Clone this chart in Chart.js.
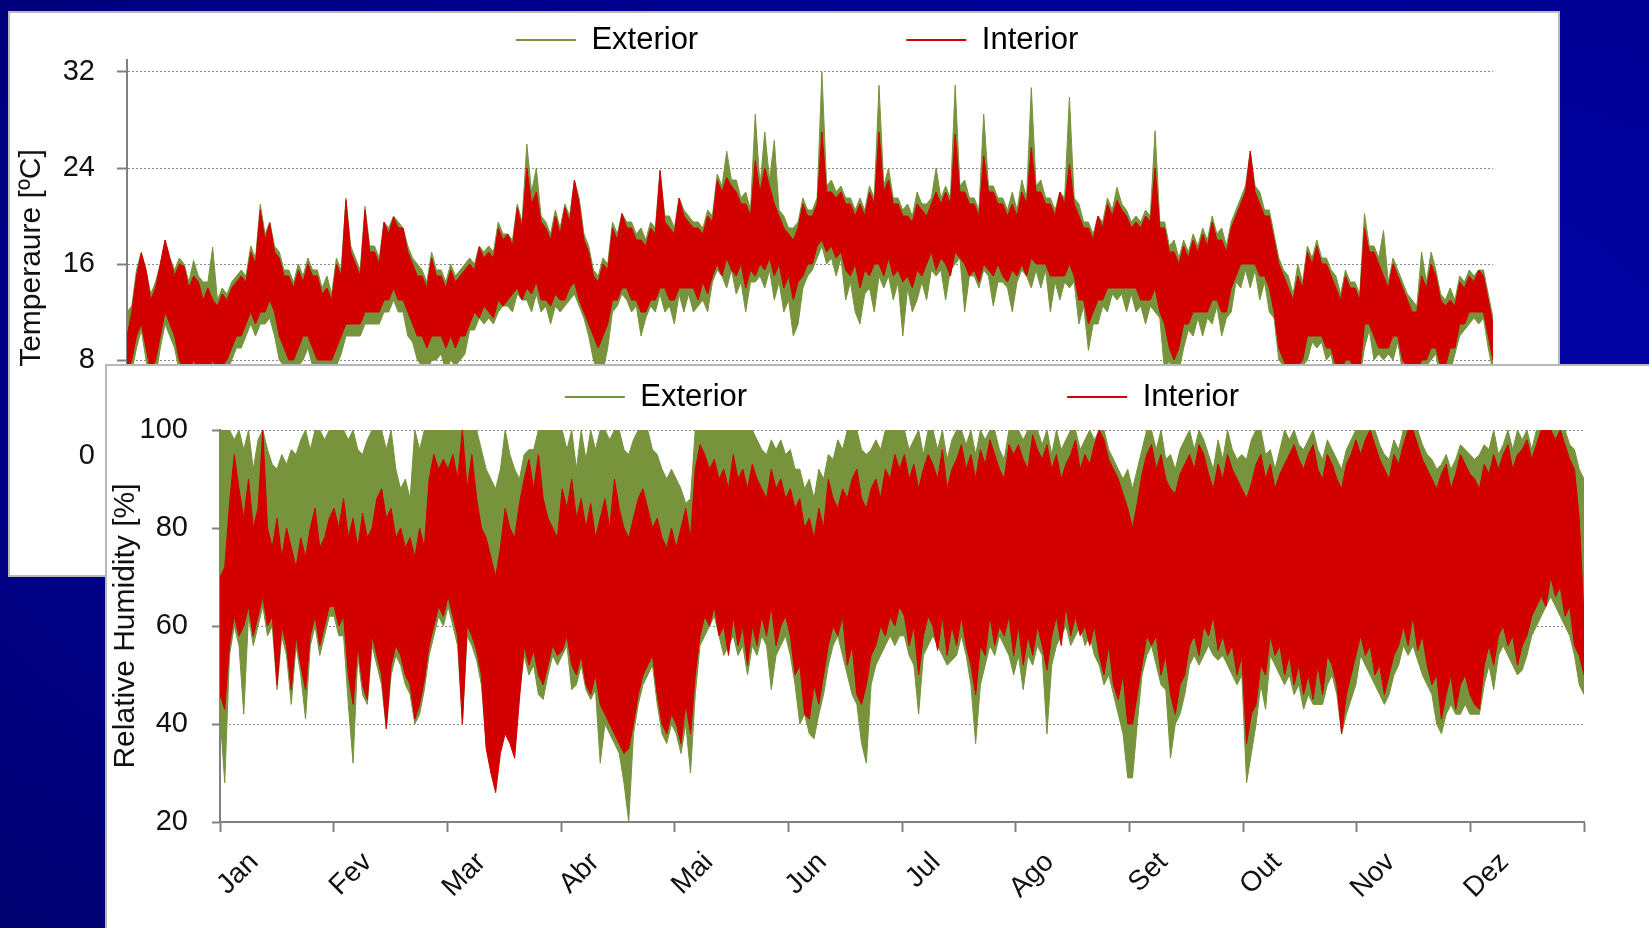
<!DOCTYPE html>
<html>
<head>
<meta charset="utf-8">
<script src="https://cdn.jsdelivr.net/npm/chart.js@4.4.1/dist/chart.umd.min.js"></script>
<style>
  html, body { margin: 0; padding: 0; }
  body {
    width: 1649px; height: 928px; overflow: hidden; position: relative;
    background: radial-gradient(ellipse at 72% 40%, #0808b0 0%, #000098 45%, #000070 100%);
  }
  .panel { position: absolute; background: #fff; box-sizing: border-box; }
  #topPanel { left: 8px; top: 11px; width: 1552px; height: 566px; border: 2px solid #b8b8b8; }
  #bottomPanel { left: 105px; top: 364px; width: 1560px; height: 580px; border-left: 2px solid #b8b8b8; border-top: 2px solid #b8b8b8; }
  #tempChart { position: absolute; left: 9px; top: 12px; }
  #humChart { position: absolute; left: 107px; top: 367px; }
</style>
</head>
<body>
<div class="panel" id="topPanel"></div>
<canvas id="tempChart" width="1548" height="560"></canvas>
<div class="panel" id="bottomPanel"></div>
<canvas id="humChart" width="1542" height="561"></canvas>
<script>
const monthLabels = ['Jan', 'Fev', 'Mar', 'Abr', 'Mai', 'Jun', 'Jul', 'Ago', 'Set', 'Out', 'Nov', 'Dez'];
const tempTicks = [0, 8, 16, 24, 32];
const humTicks = [20, 40, 60, 80, 100];

// temperature [ºC], 24 readings per month (one row per month): upper / lower envelope of the hourly signal
const tempIntHigh = [
  10, 12, 15, 16.9, 15.5, 13, 14, 16, 18, 16.5, 15, 16, 15.8, 14, 15, 14.5, 13, 14, 13, 12.5, 13.5, 13, 14, 14.5,
  15, 14.5, 17, 16, 20.5, 18, 19.4, 17, 16.5, 15, 15, 14, 15.5, 14.5, 16, 15, 15, 13.5, 14, 13, 16, 15, 21.3, 17,
  16, 15, 20.5, 17, 17, 16, 19.5, 18.5, 19.9, 19, 19, 17, 16, 15, 15, 14, 16.5, 15, 15, 14, 15.5, 14.5, 15, 15.5,
  16, 15.5, 17.4, 16.5, 17, 16.5, 19, 18, 18.5, 17.5, 20.7, 19, 24, 21, 22, 19.5, 19, 18, 20, 18.5, 20.7, 19.5, 23, 21,
  18, 17, 15, 14.5, 16, 15.5, 19, 18, 20.2, 19, 19, 18, 18, 17.5, 19, 18.5, 23.8, 19.5, 19, 18.5, 21.5, 20, 19.5, 19,
  19, 18.5, 20, 19.5, 23, 22, 23.2, 22.5, 22, 21, 21, 20, 24.6, 22, 24, 22.5, 21, 20, 19, 18.5, 18, 19, 21, 20,
  20, 21, 27, 22, 22, 21.5, 22, 21, 21, 20, 21, 20, 22, 21, 27, 22, 23, 21, 21, 20, 20, 19.5, 21, 20.5,
  20, 21, 22, 21, 22, 21, 26.8, 22, 22, 21, 21, 20, 25, 22, 22, 21, 21, 20, 21, 20, 22, 21, 25.7, 22,
  22, 21, 21, 20, 22, 21, 24.3, 21, 20, 19, 19, 18, 20, 19, 21, 20, 21.3, 20.5, 20, 19, 19.5, 19, 20, 19.5,
  24, 19, 19, 17, 17, 16, 17.5, 16.5, 18, 17, 18.5, 17.5, 19.5, 18, 18, 17, 19, 20, 21, 22, 25.4, 22, 21, 20,
  20, 18, 16, 15, 14, 13, 15, 14, 17, 16, 17.5, 16, 16, 15, 14, 13, 15, 14, 14, 13, 19, 17, 17, 16,
  15, 14, 16, 15, 14, 13, 12, 12, 15, 14, 16, 15, 13, 12.5, 13, 12.5, 14.5, 14, 15, 14.5, 15.5, 15, 13, 11
];
const tempIntLow = [
  7, 8, 10, 11, 9, 7, 8, 10, 12, 11, 10, 8, 7, 7, 8, 7, 7, 7, 8, 7, 7.5, 8, 9, 10,
  10, 11, 12, 11, 12, 12, 13, 12, 10, 9, 8, 8, 9, 10, 10, 9, 8, 8, 8, 8, 9, 10, 11, 11,
  11, 11, 12, 12, 12, 12, 13, 13, 14, 13, 13, 12, 11, 10, 10, 9, 10, 10, 10, 9, 10, 9, 10, 10,
  11, 12, 11.5, 12.5, 12, 11.5, 13, 12.5, 13, 13.5, 14, 13, 14, 13.5, 14.5, 13, 13, 12.5, 13.5, 13, 13, 14, 14.5, 13,
  12, 11, 10, 9, 10, 11, 13, 13, 14, 14, 13, 13, 12, 12, 13, 13, 14, 14, 13, 13, 14, 14, 14, 14,
  13, 14.5, 13.5, 15, 16, 15, 16.5, 15.5, 15, 16, 14, 15.5, 15, 16, 15.5, 16.5, 15, 16, 14, 15, 13, 14.5, 15, 16,
  16, 17.5, 18, 17, 17.5, 16.5, 17, 15.5, 15, 16, 14, 15.5, 15, 16, 16, 15, 16.5, 15, 15.5, 14.5, 15, 14, 15.5, 15,
  16, 17, 15.5, 16.5, 16, 15, 17, 16.5, 16, 15, 15.5, 14.5, 16, 15.5, 15, 16, 15, 14.5, 15.5, 15, 16, 15, 16.5, 16,
  16, 16, 15, 15, 15, 15, 16, 15, 13, 13, 11, 12, 13, 13, 14, 14, 14, 14, 14, 14, 14, 13, 13, 13,
  14, 12, 11, 9, 8, 9, 11, 11, 12, 12, 12, 12, 13, 13, 12, 12, 14, 15, 16, 16, 16, 16, 15, 15,
  14, 12, 9, 8, 7, 7, 7.5, 8, 10, 10, 10, 10, 9, 9, 7.5, 7, 8, 8, 7, 7, 11, 11, 10, 9,
  9, 9, 10, 10, 8, 7.5, 7, 7, 8, 8, 9, 9, 7.5, 7.5, 9, 9, 11, 11, 12, 12, 12, 12, 10, 8
];
const tempExtHigh = [
  12, 12.5, 15.5, 17, 15.5, 13.5, 14.5, 16, 18, 16.5, 15.5, 16.5, 16, 14.5, 16.3, 15, 14.5, 14.5, 17.4, 13, 14, 13.5, 14.5, 15,
  15.5, 15, 17.5, 16.5, 21, 18.5, 19.5, 17.5, 17, 15.5, 15.5, 14.5, 16, 15, 16.5, 15.5, 15.5, 14, 15, 13.5, 16.5, 15.5, 21.5, 17.5,
  16.5, 15.5, 20.8, 17.5, 17.5, 16.5, 19.5, 19, 20, 19.5, 19, 17.5, 16.5, 16, 15.5, 14.5, 17, 15.5, 15.5, 14.5, 16, 15, 15.5, 16,
  16.5, 16, 17.5, 17, 17.5, 17, 19.5, 18.5, 18.5, 18, 21, 19.5, 26, 22, 24, 20, 19.5, 18.5, 20.5, 19, 21, 20, 23, 21.5,
  18.5, 17.5, 15.5, 15, 16.5, 16, 19.5, 18.5, 20.2, 19.5, 19.5, 18.5, 19, 18, 19.5, 19, 23.8, 20, 20, 19, 21.5, 20.5, 20, 19.5,
  19.5, 19, 20.5, 20, 23.5, 22.5, 25.4, 23, 23, 21.5, 22, 20.5, 28.5, 22.5, 27, 23, 26.3, 20.5, 20, 19, 19, 19.5, 21.5, 20.5,
  20.5, 21.5, 32, 22.5, 23, 22, 22.5, 21.5, 21.5, 20.5, 21.5, 20.5, 22.5, 21.5, 30.9, 22.5, 24, 21.5, 21.5, 20.5, 21, 20, 22, 21,
  21, 21.5, 24, 21.5, 22.5, 21.5, 30.9, 22.5, 23, 21.5, 21.5, 20.5, 28.5, 22.5, 22.5, 21.5, 21.5, 20.5, 22, 20.5, 23, 21.5, 30.7, 22.5,
  23, 21.5, 21.5, 20.5, 22, 21.5, 29.9, 21.5, 21, 19.5, 19.5, 18.5, 20, 19.5, 21.5, 20.5, 22.4, 21, 20.5, 19.5, 20, 19.5, 20.5, 20,
  27.1, 19.5, 19.5, 17.5, 18, 16.5, 18, 17, 18.5, 17.5, 19, 18, 20, 18.5, 19, 17.5, 19.5, 20.5, 21.5, 22.5, 25.4, 22.5, 22, 20.5,
  20.5, 18.5, 16.5, 15.5, 15, 13.5, 16, 14.5, 17.5, 16.5, 18, 16.5, 16.5, 15.5, 15, 13.5, 15.5, 14.5, 14.5, 13.5, 20.2, 17.5, 17.5, 16.5,
  18.8, 14.5, 16.5, 15.5, 14.5, 13.5, 13, 12.5, 17, 14.5, 17, 15.5, 13.5, 13, 14, 13, 15, 14.5, 15.5, 15, 15.5, 15.5, 13.5, 11.5
];
const tempExtLow = [
  6, 7, 9, 10.5, 8, 6, 6.5, 9, 11, 10, 9, 7, 6, 6, 6.5, 6, 6, 6, 6.5, 6, 6, 7, 8, 9,
  9, 10, 11, 10, 11, 11, 11.5, 10, 8, 7.5, 7, 6.5, 7.5, 8, 9, 7.5, 6.5, 6.5, 6, 6.5, 7.5, 8.5, 10, 10,
  10, 10, 11, 11, 11, 11, 12, 12, 13, 12, 12, 10, 9.5, 8, 7.5, 7, 8, 8, 8.5, 7, 8, 7.5, 8, 8.5,
  10.5, 10.5, 11.5, 11, 11.5, 11, 12, 12.5, 12.5, 12, 13.5, 13, 13, 12, 13.5, 12, 12.5, 11, 12.5, 12, 12.5, 13, 13.5, 12.5,
  11.5, 10, 8, 7, 7, 9, 12, 12.5, 13.5, 13, 12, 12.5, 10, 11.5, 12.5, 12, 13.5, 12, 12.5, 11, 13.5, 12, 13.5, 12,
  12.5, 13, 12, 14.5, 15.5, 15, 14, 15.5, 13.5, 14.5, 12, 14.5, 14.5, 15, 14, 15.5, 13, 14.5, 12, 13, 10, 11, 14, 15,
  15.5, 16.5, 17.5, 16, 16.5, 15, 16.5, 13, 14.5, 12, 11, 13.5, 14, 12, 15, 14, 15, 13, 14.5, 10, 14, 12, 13, 14.5,
  13, 15.5, 15, 15.5, 13, 15.5, 16, 16.5, 12, 15, 15, 14, 15.5, 15, 12.5, 14.5, 14.5, 14, 12, 14.5, 15.5, 15, 14, 15.5,
  14, 15.5, 12, 14.5, 13, 14.5, 14, 14.5, 11, 12.5, 8.8, 11, 11, 12.5, 12, 13.5, 13, 13.5, 12, 13.5, 12, 12.5, 11, 12.5,
  12, 11.5, 7, 8, 6, 7, 9, 10.5, 10, 11.5, 10, 11.5, 11, 12.5, 10, 11.5, 12, 14.5, 14, 15.5, 14, 15.5, 13, 14.5,
  12, 11.5, 8, 7.5, 6, 6.5, 6, 7.5, 8, 9.5, 9, 9.5, 8, 8.5, 6, 6.5, 7, 7.5, 6, 6.5, 9, 10.5, 8, 8.5,
  8, 8.5, 8, 9.5, 7, 7, 6, 6.5, 7, 7.5, 8, 8.5, 6, 7, 7, 8.5, 10, 10.5, 11, 11.5, 11, 11.5, 9, 7
];

// relative humidity [%], same sampling
const humIntHigh = [
  70, 72, 85, 95, 88, 82, 90, 80, 84, 100, 80, 76, 82, 74, 80, 76, 72, 78, 74, 80, 84, 76, 78, 82,
  84, 80, 86, 78, 82, 76, 83, 78, 80, 86, 88, 82, 84, 78, 80, 76, 78, 74, 80, 76, 90, 95, 92, 94,
  92, 95, 90, 100, 88, 95, 86, 80, 78, 74, 70, 76, 84, 80, 78, 85, 90, 94, 88, 95, 86, 82, 80, 78,
  88, 84, 90, 82, 86, 80, 85, 78, 82, 86, 80, 90, 84, 80, 78, 82, 86, 88, 84, 80, 82, 78, 76, 80,
  76, 80, 84, 78, 92, 97, 95, 92, 94, 90, 92, 88, 95, 90, 92, 88, 93, 90, 88, 86, 92, 88, 90, 86,
  88, 84, 86, 80, 82, 78, 84, 80, 90, 86, 84, 88, 86, 90, 92, 86, 84, 88, 90, 86, 92, 90, 95, 92,
  95, 90, 93, 88, 92, 95, 93, 90, 96, 88, 92, 94, 97, 92, 95, 90, 96, 93, 98, 95, 92, 90, 97, 95,
  97, 94, 92, 99, 96, 94, 97, 92, 95, 90, 93, 95, 98, 92, 95, 93, 97, 100, 98, 94, 92, 90, 87, 84,
  80, 85, 91, 95, 97, 92, 95, 90, 88, 87, 91, 93, 95, 92, 97, 95, 91, 88, 93, 90, 95, 92, 90, 88,
  86, 89, 93, 95, 90, 93, 88, 91, 93, 95, 97, 94, 92, 95, 97, 92, 90, 95, 93, 90, 88, 93, 95, 98,
  95, 98, 100, 97, 94, 92, 90, 95, 93, 97, 100, 100, 97, 94, 92, 90, 88, 91, 93, 88, 91, 95, 93, 91,
  90, 88, 93, 91, 95, 92, 95, 97, 92, 95, 96, 98, 94, 97, 100, 100, 100, 98, 100, 97, 94, 92, 82, 62
];
const humIntLow = [
  46, 43, 56, 62, 58, 60, 64, 58, 62, 66, 60, 62, 48, 60, 56, 47, 58, 52, 47, 58, 62, 56, 60, 64,
  64, 60, 62, 50, 44, 56, 48, 45, 58, 54, 50, 39, 52, 56, 54, 50, 48, 41, 44, 49, 56, 60, 64, 62,
  66, 62, 58, 40, 60, 58, 55, 50, 35, 30, 26, 34, 38, 36, 33, 45, 56, 52, 55, 50, 48, 52, 56, 54,
  55, 58, 52, 50, 54, 48, 46, 50, 44, 42, 40, 38, 36, 34, 35, 40, 46, 50, 52, 54, 46, 40, 38, 42,
  40, 36, 44, 38, 50, 58, 62, 60, 64, 58, 60, 54, 62, 56, 60, 52, 60, 56, 62, 58, 64, 56, 60, 62,
  58, 50, 52, 42, 41, 48, 44, 50, 56, 60, 58, 62, 52, 56, 46, 44, 48, 54, 56, 60, 58, 62, 60, 64,
  62, 56, 60, 50, 58, 62, 60, 55, 62, 54, 60, 56, 62, 56, 52, 46, 56, 54, 62, 56, 60, 58, 62, 54,
  60, 52, 58, 54, 60, 56, 51, 58, 62, 56, 64, 58, 62, 58, 60, 56, 60, 54, 50, 56, 48, 45, 50, 40,
  40, 46, 52, 58, 56, 58, 50, 54, 46, 42, 48, 50, 56, 58, 54, 60, 58, 62, 55, 58, 54, 56, 50, 54,
  36, 42, 44, 52, 50, 58, 54, 56, 50, 54, 48, 52, 46, 50, 45, 52, 46, 54, 52, 48, 38, 46, 50, 54,
  58, 54, 56, 50, 52, 46, 50, 54, 56, 60, 56, 62, 55, 58, 52, 48, 50, 41, 46, 50, 43, 48, 50, 46,
  44, 43, 52, 56, 52, 58, 60, 56, 58, 52, 56, 58, 62, 64, 66, 64, 70, 66, 68, 62, 64, 56, 54, 50
];
const humExtHigh = [
  100, 100, 100, 98, 100, 96, 100, 92, 98, 100, 96, 93, 92, 95, 93, 96, 95, 98, 100, 96, 100, 100, 98, 100,
  100, 100, 100, 98, 100, 96, 95, 98, 100, 100, 100, 96, 100, 92, 88, 90, 86, 100, 96, 100, 100, 100, 100, 100,
  100, 100, 100, 100, 100, 100, 100, 96, 92, 90, 88, 92, 100, 95, 92, 90, 95, 96, 96, 100, 100, 100, 100, 100,
  100, 96, 100, 92, 100, 94, 100, 96, 100, 100, 98, 100, 100, 96, 95, 98, 100, 100, 100, 96, 95, 92, 90, 92,
  90, 88, 85, 86, 100, 100, 100, 100, 100, 100, 100, 100, 100, 100, 100, 100, 100, 98, 96, 95, 98, 96, 98, 95,
  96, 92, 92, 88, 90, 86, 92, 90, 95, 94, 98, 96, 100, 100, 100, 96, 95, 96, 98, 96, 100, 100, 100, 100,
  100, 96, 98, 100, 95, 100, 100, 96, 100, 94, 98, 100, 100, 97, 100, 95, 100, 98, 100, 100, 96, 94, 100, 100,
  100, 98, 100, 100, 100, 97, 100, 95, 100, 96, 98, 100, 100, 96, 98, 100, 98, 100, 100, 96, 94, 92, 90, 92,
  88, 92, 96, 100, 100, 96, 100, 94, 95, 92, 96, 98, 100, 96, 100, 98, 95, 92, 98, 94, 100, 96, 94, 95,
  94, 98, 100, 100, 95, 96, 92, 96, 100, 98, 100, 97, 96, 98, 100, 96, 94, 98, 96, 94, 92, 96, 98, 100,
  100, 100, 100, 100, 97, 95, 94, 98, 96, 100, 100, 100, 100, 97, 95, 94, 92, 93, 95, 92, 94, 97, 96, 95,
  94, 95, 97, 96, 100, 95, 97, 100, 96, 100, 98, 100, 96, 100, 100, 100, 100, 100, 100, 100, 97, 96, 92, 90
];
const humExtLow = [
  42, 28, 54, 60, 56, 42, 62, 56, 60, 64, 58, 60, 47, 58, 54, 44, 56, 50, 41, 56, 60, 54, 58, 62,
  62, 58, 58, 44, 32, 54, 46, 44, 56, 52, 48, 39, 50, 54, 52, 48, 46, 40, 42, 47, 54, 58, 62, 60,
  64, 60, 56, 40, 58, 56, 53, 48, 36, 32, 30, 36, 40, 38, 35, 46, 54, 50, 52, 46, 45, 50, 54, 52,
  54, 56, 47, 48, 52, 47, 45, 47, 32, 40, 38, 36, 34, 28, 20, 38, 44, 48, 50, 52, 44, 38, 36, 40,
  38, 34, 40, 30, 46, 56, 58, 60, 62, 58, 54, 56, 58, 54, 56, 50, 56, 54, 58, 56, 47, 54, 56, 58,
  54, 48, 40, 42, 38, 37, 42, 46, 52, 56, 58, 54, 50, 46, 44, 36, 32, 48, 52, 54, 56, 58, 56, 58,
  58, 54, 52, 42, 54, 56, 58, 56, 54, 52, 53, 54, 58, 54, 48, 36, 48, 52, 56, 54, 58, 56, 54, 50,
  54, 47, 54, 52, 56, 54, 38, 52, 56, 58, 60, 56, 58, 60, 56, 58, 54, 52, 48, 50, 46, 42, 38, 29,
  29, 40, 50, 54, 56, 52, 48, 47, 33, 40, 42, 46, 52, 54, 52, 54, 56, 54, 53, 54, 52, 50, 48, 50,
  28, 34, 40, 48, 43, 54, 52, 50, 48, 50, 46, 48, 43, 46, 44, 44, 44, 48, 50, 46, 38, 42, 45, 48,
  54, 52, 50, 48, 46, 44, 46, 50, 52, 56, 54, 56, 53, 50, 48, 46, 40, 38, 42, 44, 42, 42, 44, 42,
  42, 42, 48, 52, 47, 54, 56, 54, 52, 50, 51, 54, 58, 60, 62, 64, 66, 64, 62, 60, 58, 54, 48, 46
];

const extColor = '#77933c';
const intColor = '#d20000';
const axisGray = '#808080';
const textColor = '#111111';

Chart.defaults.font.family = "'Liberation Sans', Arial, sans-serif";
Chart.defaults.color = textColor;

// spread the samples evenly over the 12 months of the year
function toPoints(values) {
  return values.map((v, i) => ({ x: i * 12 / (values.length - 1), y: v }));
}

function band(values, color, fill) {
  return {
    data: toPoints(values),
    borderColor: color,
    backgroundColor: color,
    borderWidth: 1,
    pointRadius: 0,
    tension: 0,
    fill: fill
  };
}

function legendItems(extText, intText) {
  return () => [
    { text: extText, fillStyle: extColor, strokeStyle: extColor, lineWidth: 0, hidden: false, datasetIndex: 2 },
    { text: intText, fillStyle: intColor, strokeStyle: intColor, lineWidth: 0, hidden: false, datasetIndex: 0 }
  ];
}

const legendFont = { size: 31 };

new Chart(document.getElementById('tempChart'), {
  type: 'line',
  data: {
    datasets: [
      band(tempIntHigh, intColor, '+1'),
      band(tempIntLow, intColor, false),
      band(tempExtHigh, extColor, '+1'),
      band(tempExtLow, extColor, false)
    ]
  },
  options: {
    responsive: false,
    animation: false,
    events: [],
    layout: { padding: { top: 2.5, left: 0, right: 64, bottom: 116 } },
    plugins: {
      tooltip: { enabled: false },
      legend: {
        position: 'top',
        fullSize: false,
        maxHeight: 45.5,
        labels: {
          boxWidth: 60, boxHeight: 2, padding: 10, color: textColor, font: legendFont,
          generateLabels: legendItems('Exterior' + ' '.repeat(23), 'Interior' + ' '.repeat(3))
        }
      }
    },
    scales: {
      x: { type: 'linear', min: 0, max: 12, display: false },
      y: {
        min: 0, max: 33,
        afterBuildTicks: s => { s.ticks = tempTicks.map(v => ({ value: v })); },
        afterFit: s => { s.width = 118; },
        ticks: { padding: 22, font: { size: 29 }, color: textColor },
        grid: { color: '#8a8a8a', lineWidth: 1, tickLength: 10, tickColor: axisGray, tickWidth: 2, tickBorderDash: [] },
        border: { color: axisGray, width: 2, dash: [2, 2] },
        title: { display: true, text: 'Temperaure [ºC]', color: textColor, font: { size: 30, lineHeight: 1.2 }, padding: { top: 5, bottom: 0 } }
      }
    }
  }
});

new Chart(document.getElementById('humChart'), {
  type: 'line',
  data: {
    datasets: [
      band(humIntHigh, intColor, '+1'),
      band(humIntLow, intColor, false),
      band(humExtHigh, extColor, '+1'),
      band(humExtLow, extColor, false)
    ]
  },
  options: {
    responsive: false,
    animation: false,
    events: [],
    layout: { padding: { top: 4.5, left: 0, right: 65, bottom: 0 } },
    plugins: {
      tooltip: { enabled: false },
      // empty spacer between legend and plot
      title: { display: true, text: '', weight: 500, padding: 0, font: { size: 6, lineHeight: 1.25 } },
      legend: {
        position: 'top',
        fullSize: false,
        labels: {
          boxWidth: 60, boxHeight: 2, padding: 10, color: textColor, font: legendFont,
          generateLabels: legendItems('Exterior' + ' '.repeat(36), 'Interior')
        }
      }
    },
    scales: {
      x: {
        type: 'linear', min: 0, max: 12,
        afterBuildTicks: s => { s.ticks = monthLabels.concat(['']).map((m, i) => ({ value: i })); },
        afterFit: s => { s.height = 106; },
        ticks: {
          autoSkip: false, minRotation: 45, maxRotation: 45, padding: 14, labelOffset: 34,
          font: { size: 28 }, color: textColor,
          callback: v => monthLabels[v] || ''
        },
        grid: { drawOnChartArea: false, tickLength: 10, tickColor: axisGray, tickWidth: 2 },
        border: { color: axisGray, width: 2 }
      },
      y: {
        min: 20, max: 100,
        afterBuildTicks: s => { s.ticks = humTicks.map(v => ({ value: v })); },
        afterFit: s => { s.width = 113; },
        ticks: { padding: 24, font: { size: 29 }, color: textColor },
        grid: { color: '#8a8a8a', lineWidth: 1, tickLength: 8, tickColor: axisGray, tickWidth: 2, tickBorderDash: [] },
        border: { color: axisGray, width: 2, dash: [2, 2] },
        title: { display: true, text: 'Relative Humidity [%]', color: textColor, font: { size: 30, lineHeight: 1.2 }, padding: { top: 1, bottom: 0 } }
      }
    }
  }
});
</script>
</body>
</html>
